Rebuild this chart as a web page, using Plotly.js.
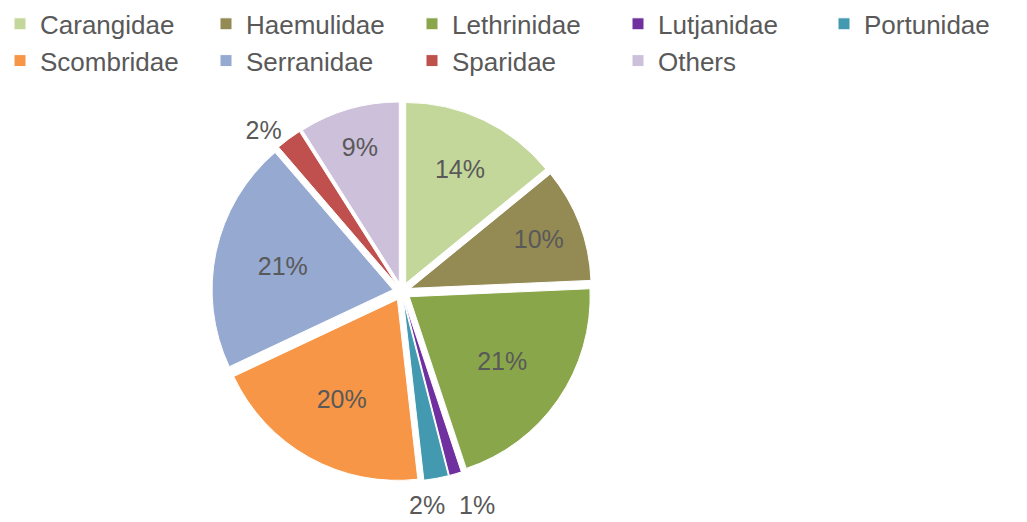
<!DOCTYPE html>
<html>
<head>
<meta charset="utf-8">
<script src="https://cdn.plot.ly/plotly-3.0.1.min.js"></script>
<style>html,body{margin:0;padding:0;background:#fff;}#chart{width:1027px;height:522px;}</style>
</head>
<body>
<div id="chart"></div>
<script>
var families = ["Carangidae","Haemulidae","Lethrinidae","Lutjanidae","Portunidae","Scombridae","Serranidae","Sparidae","Others"];
var shares = [14.1, 10.2, 20.6, 1.1, 2.2, 19.8, 20.7, 2.3, 9.0];
var colours = ["#C4D79B","#948A54","#8AA64B","#7030A0","#4299B0","#F79646","#95A9D1","#C0504D","#CCC0DA"];
var labelPos = ["inside","inside","inside","none","none","inside","inside","outside","inside"];

var W = 1027, H = 522;
var dom = {x: [0.2055, 0.577], y: [0.078, 0.81]};
var pullFrac = 0.05;
var FONT = "Arial, Liberation Sans, sans-serif";
var GREY = "#595959";

var trace = {
  type: "pie",
  labels: families,
  values: shares,
  sort: false,
  direction: "clockwise",
  rotation: 0,
  pull: pullFrac,
  marker: {colors: colours, line: {color: "#ffffff", width: 1}},
  texttemplate: "%{percent:.0%}",
  textposition: labelPos,
  insidetextorientation: "horizontal",
  textfont: {family: FONT, size: 25, color: GREY},
  outsidetextfont: {family: FONT, size: 25, color: GREY},
  hoverinfo: "label+percent",
  domain: dom
};

// labels of the two thin bottom slices, placed beside each other below their slices
var total = shares.reduce(function (a, b) { return a + b; }, 0);
var cx = (dom.x[0] + dom.x[1]) / 2 * W;
var cy = (1 - (dom.y[0] + dom.y[1]) / 2) * H;
var half = Math.min((dom.x[1] - dom.x[0]) * W, (dom.y[1] - dom.y[0]) * H) / 2;
var R = half;
function edgePoint(idx) {
  var before = 0;
  for (var i = 0; i < idx; i++) before += shares[i];
  var mid = (before + shares[idx] / 2) / total * 2 * Math.PI;
  return {x: cx + R * Math.sin(mid), y: cy - R * Math.cos(mid)};
}
var iLut = families.indexOf("Lutjanidae"), iPor = families.indexOf("Portunidae");
var pLut = edgePoint(iLut), pPor = edgePoint(iPor);
var labelY = Math.max(pLut.y, pPor.y) + 11;
function pct(idx) { return Math.round(shares[idx] / total * 100) + "%"; }
var annotations = [
  {text: pct(iPor), xref: "paper", yref: "paper", x: (pPor.x + 11) / W, y: 1 - labelY / H,
   xanchor: "right", yanchor: "top", showarrow: false, font: {family: FONT, size: 25, color: GREY}},
  {text: pct(iLut), xref: "paper", yref: "paper", x: (pLut.x + 1) / W, y: 1 - labelY / H,
   xanchor: "left", yanchor: "top", showarrow: false, font: {family: FONT, size: 25, color: GREY}}
];

var layout = {
  width: W,
  height: H,
  margin: {l: 0, r: 0, t: 0, b: 0},
  paper_bgcolor: "#ffffff",
  showlegend: true,
  legend: {
    orientation: "h",
    x: 0.005, y: 1.005, xanchor: "left", yanchor: "top",
    entrywidth: 161, entrywidthmode: "pixels",
    bgcolor: "rgba(0,0,0,0)",
    font: {family: FONT, size: 26, color: GREY},
    traceorder: "normal"
  },
  annotations: annotations
};

Plotly.newPlot("chart", [trace], layout, {displayModeBar: false, staticPlot: true});
</script>
</body>
</html>
